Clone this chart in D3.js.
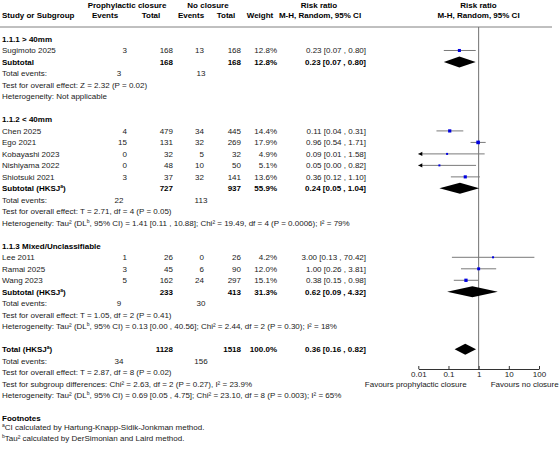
<!DOCTYPE html>
<html>
<head>
<meta charset="utf-8">
<script src="https://cdn.jsdelivr.net/npm/d3@7"></script>
<style>
  body { margin: 0; background: #fff; }
  svg text { font-family: Arial, "Liberation Sans", sans-serif; font-size: 8px; fill: #1a1a1a; }
  .bold { font-weight: bold; fill: #000; }
</style>
</head>
<body>
<div id="forest"></div>
<script>
// Study level data
const studies = ["Sugimoto 2025", "Chen 2025", "Ego 2021", "Kobayashi 2023", "Nishiyama 2022", "Shiotsuki 2021", "Lee 2011", "Ramai 2025", "Wang 2023"];
const studyGroup = [0, 1, 1, 1, 1, 1, 2, 2, 2];
const events1 = [3, 4, 15, 0, 0, 3, 1, 3, 5];
const total1 = [168, 479, 131, 32, 48, 37, 26, 45, 162];
const events2 = [13, 34, 32, 5, 10, 32, 0, 6, 24];
const total2 = [168, 445, 269, 32, 50, 141, 26, 90, 297];
const weights = [12.8, 14.4, 17.9, 4.9, 5.1, 13.6, 4.2, 12.0, 15.1];
const rr = [0.23, 0.11, 0.96, 0.09, 0.05, 0.36, 3.00, 1.00, 0.38];
const rrLow = [0.07, 0.04, 0.54, 0.006, 0.003, 0.12, 0.13, 0.26, 0.15];
const rrHigh = [0.80, 0.31, 1.71, 1.58, 0.82, 1.10, 70.42, 3.81, 0.98];
const ciText = ["0.23 [0.07 , 0.80]", "0.11 [0.04 , 0.31]", "0.96 [0.54 , 1.71]", "0.09 [0.01 , 1.58]", "0.05 [0.00 , 0.82]", "0.36 [0.12 , 1.10]", "3.00 [0.13 , 70.42]", "1.00 [0.26 , 3.81]", "0.38 [0.15 , 0.98]"];

// Subgroup level data
const groupTitles = ["1.1.1 > 40mm", "1.1.2 < 40mm", "1.1.3 Mixed/Unclassifiable"];
const groupHKSJ = [false, true, true];
const subTotal1 = [168, 727, 233];
const subTotal2 = [168, 937, 413];
const subWeight = ["12.8%", "55.9%", "31.3%"];
const subEvents1 = [3, 22, 9];
const subEvents2 = [13, 113, 30];
const subRR = [0.23, 0.24, 0.62];
const subLow = [0.07, 0.05, 0.09];
const subHigh = [0.80, 1.04, 4.32];
const subCI = ["0.23 [0.07 , 0.80]", "0.24 [0.05 , 1.04]", "0.62 [0.09 , 4.32]"];
const subTest = ["Test for overall effect: Z = 2.32 (P = 0.02)", "Test for overall effect: T = 2.71, df = 4 (P = 0.05)", "Test for overall effect: T = 1.05, df = 2 (P = 0.41)"];
const subHet = [null,
  ["1.41 [0.11 , 10.88]; Chi² = 19.49, df = 4 (P = 0.0006); I² = 79%"],
  ["0.13 [0.00 , 40.56]; Chi² = 2.44, df = 2 (P = 0.30); I² = 18%"]];

// Overall
const overall = { total1: 1128, total2: 1518, events1: 34, events2: 156, rr: 0.36, lo: 0.16, hi: 0.82, ci: "0.36 [0.16 , 0.82]" };
const overallTest = "Test for overall effect: T = 2.87, df = 8 (P = 0.02)";
const subgroupTest = "Test for subgroup differences: Chi² = 2.63, df = 2 (P = 0.27), I² = 23.9%";
const overallHet = "0.69 [0.05 , 4.75]; Chi² = 23.10, df = 8 (P = 0.003); I² = 65%";

// Axis ticks and labels
const axisTicks = [0.01, 0.1, 1, 10, 100];
const axisTickLabels = ["0.01", "0.1", "1", "10", "100"];
const favoursLeft = "Favours prophylactic closure";
const favoursRight = "Favours no closure";

const width = 560, height = 449;

// Column positions (right aligned numbers)
const col = { ev1: 127, tot1: 173, ev2: 204, tot2: 241, weight: 277, ci: 366, totEv1: 119, totEv2: 201 };

const svg = d3.select("#forest").append("svg")
  .attr("width", width)
  .attr("height", height);

// Build the row list
let rows = [];
groupTitles.forEach((g, gi) => {
  rows.push({ type: "title", text: g });
  studies.forEach((s, i) => {
    if (studyGroup[i] === gi) rows.push({ type: "study", i: i });
  });
  rows.push({ type: "subtotal", gi: gi });
  rows.push({ type: "events", e1: subEvents1[gi], e2: subEvents2[gi] });
  rows.push({ type: "text", text: subTest[gi] });
  if (subHet[gi]) rows.push({ type: "het", text: subHet[gi][0] });
  else rows.push({ type: "text", text: "Heterogeneity: Not applicable" });
  rows.push({ type: "blank" });
});
rows.push({ type: "overall" });
rows.push({ type: "events", e1: overall.events1, e2: overall.events2 });
rows.push({ type: "text", text: overallTest });
rows.push({ type: "text", text: subgroupTest });
rows.push({ type: "het", text: overallHet });
rows.push({ type: "blank" });
rows.push({ type: "footTitle" });
rows.push({ type: "foot", sup: "a", text: "CI calculated by Hartung-Knapp-Sidik-Jonkman method." });
rows.push({ type: "foot", sup: "b", text: "Tau² calculated by DerSimonian and Laird method." });

// Scales
const y = d3.scaleLinear().domain([0, rows.length - 1]).range([39, 39 + (rows.length - 1) * 11.49]);
const x = d3.scaleLog().domain([0.01, 100]).range([418.3, 539]);
const axisY = 369;

// Header
const head = svg.append("g");
function headText(tx, ty, t, anchor) {
  head.append("text").attr("class", "bold").attr("x", tx).attr("y", ty).attr("dy", "0.35em")
    .attr("text-anchor", anchor || "middle").text(t);
}
headText(127, 5, "Prophylactic closure");
headText(208, 5, "No closure");
headText(319, 5, "Risk ratio");
headText(478.5, 5, "Risk ratio");
headText(2, 15.5, "Study or Subgroup", "start");
headText(105, 15.5, "Events");
headText(151, 15.5, "Total");
headText(191, 15.5, "Events");
headText(226, 15.5, "Total");
headText(260, 15.5, "Weight");
headText(320, 15.5, "M-H, Random, 95% CI");
headText(478.5, 15.5, "M-H, Random, 95% CI");

svg.append("line")
  .attr("x1", 0).attr("x2", 552).attr("y1", 27).attr("y2", 27)
  .attr("stroke", "#808080").attr("stroke-width", 1);

// Vertical line of no effect
svg.append("line")
  .attr("x1", x(1)).attr("x2", x(1)).attr("y1", 27).attr("y2", axisY)
  .attr("stroke", "#707070").attr("stroke-width", 1);

const body = svg.append("g");

function txt(tx, ty, t, anchor, bold) {
  return body.append("text").attr("x", tx).attr("y", ty).attr("dy", "0.35em")
    .attr("text-anchor", anchor || "end")
    .attr("class", bold ? "bold" : null)
    .text(t);
}

// Text with superscript letter after the first part
function supText(tx, ty, before, sup, after, bold) {
  let t = body.append("text").attr("x", tx).attr("y", ty).attr("dy", "0.35em")
    .attr("class", bold ? "bold" : null);
  t.append("tspan").text(before);
  t.append("tspan").attr("dy", "-3").style("font-size", "5px").text(sup);
  t.append("tspan").attr("dy", "3").text(after);
}

function diamond(cy, est, lo, hi) {
  const h = 5.5;
  body.append("path")
    .attr("d", `M${x(lo)},${cy} L${x(est)},${cy - h} L${x(hi)},${cy} L${x(est)},${cy + h} Z`)
    .attr("fill", "#000");
}

rows.forEach((r, ri) => {
  const cy = y(ri);
  if (r.type === "title") {
    txt(2, cy, r.text, "start", true);
  } else if (r.type === "study") {
    const i = r.i;
    txt(2, cy, studies[i], "start");
    txt(col.ev1, cy, events1[i]);
    txt(col.tot1, cy, total1[i]);
    txt(col.ev2, cy, events2[i]);
    txt(col.tot2, cy, total2[i]);
    txt(col.weight, cy, weights[i].toFixed(1) + "%");
    txt(col.ci, cy, ciText[i]);

    // confidence interval, clipped at the axis limit with an arrow
    const lo = Math.max(rrLow[i], 0.01), hi = Math.min(rrHigh[i], 100);
    body.append("line")
      .attr("x1", x(lo)).attr("x2", x(hi)).attr("y1", cy).attr("y2", cy)
      .attr("stroke", "#7a7a7a").attr("stroke-width", 1);
    if (rrLow[i] < 0.01) {
      body.append("path")
        .attr("d", `M${x(0.01)},${cy} l4,-2.2 l0,4.4 Z`)
        .attr("fill", "#000");
    }
    const s = Math.max(2, 0.85 * Math.sqrt(weights[i]));
    body.append("rect")
      .attr("x", x(rr[i]) - s / 2).attr("y", cy - s / 2)
      .attr("width", s).attr("height", s)
      .attr("fill", "#0000e0");
  } else if (r.type === "subtotal") {
    const gi = r.gi;
    if (groupHKSJ[gi]) supText(2, cy, "Subtotal (HKSJ", "a", ")", true);
    else txt(2, cy, "Subtotal", "start", true);
    txt(col.tot1, cy, subTotal1[gi], "end", true);
    txt(col.tot2, cy, subTotal2[gi], "end", true);
    txt(col.weight, cy, subWeight[gi], "end", true);
    txt(col.ci, cy, subCI[gi], "end", true);
    diamond(cy, subRR[gi], subLow[gi], subHigh[gi]);
  } else if (r.type === "events") {
    txt(2, cy, "Total events:", "start");
    txt(col.totEv1, cy, r.e1, "middle");
    txt(col.totEv2, cy, r.e2, "middle");
  } else if (r.type === "text") {
    txt(2, cy, r.text, "start");
  } else if (r.type === "het") {
    supText(2, cy, "Heterogeneity: Tau² (DL", "b", ", 95% CI) = " + r.text, false);
  } else if (r.type === "overall") {
    supText(2, cy, "Total (HKSJ", "a", ")", true);
    txt(col.tot1, cy, overall.total1, "end", true);
    txt(col.tot2, cy, overall.total2, "end", true);
    txt(col.weight, cy, "100.0%", "end", true);
    txt(col.ci, cy, overall.ci, "end", true);
    diamond(cy, overall.rr, overall.lo, overall.hi);
  } else if (r.type === "footTitle") {
    txt(2, cy, "Footnotes", "start", true);
  } else if (r.type === "foot") {
    let t = body.append("text").attr("x", 2).attr("y", cy).attr("dy", "0.35em");
    t.append("tspan").attr("dy", "-3").style("font-size", "5px").text(r.sup);
    t.append("tspan").attr("dy", "3").text(r.text);
  }
});

// Log axis at the bottom of the plot
const axis = d3.axisBottom(x)
  .tickValues(axisTicks)
  .tickFormat((d, i) => axisTickLabels[i])
  .tickSizeInner(-3)
  .tickSizeOuter(0)
  .tickPadding(2);

const axisG = svg.append("g")
  .attr("transform", `translate(0, ${axisY})`)
  .call(axis);
axisG.select(".domain").attr("stroke", "#333");
axisG.selectAll(".tick line").attr("stroke", "#333");
axisG.selectAll(".tick text").style("font-size", "8px").attr("fill", "#1a1a1a");

svg.append("text")
  .attr("x", x(1) - 12).attr("y", axisY + 15).attr("dy", "0.35em")
  .attr("text-anchor", "end").text(favoursLeft);
svg.append("text")
  .attr("x", x(1) + 12).attr("y", axisY + 15).attr("dy", "0.35em")
  .attr("text-anchor", "start").text(favoursRight);
</script>
</body>
</html>
